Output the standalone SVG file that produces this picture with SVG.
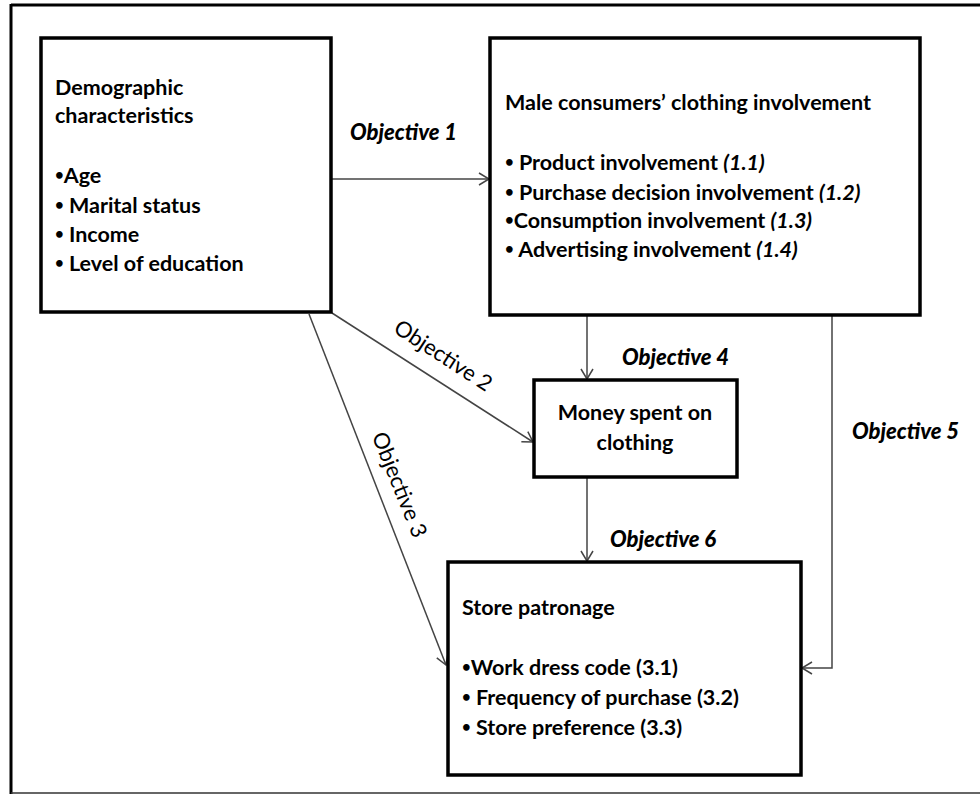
<svg xmlns="http://www.w3.org/2000/svg" width="980" height="796" viewBox="0 0 980 796">
<defs>
<marker id="arr" markerUnits="userSpaceOnUse" markerWidth="14" markerHeight="14" refX="11" refY="7" orient="auto" viewBox="0 0 14 14">
<path d="M1,1 L11,7 L1,13" fill="none" stroke="#444" stroke-width="1.5"/>
</marker>
</defs>
<style>
.box{fill:#fff;stroke:#000;stroke-width:3.5}
.t{font-family:Lato,"Open Sans","Liberation Sans",sans-serif;font-weight:bold;font-size:21.5px;fill:#000}
.obj{font-family:Lato,"Open Sans","Liberation Sans",sans-serif;font-weight:900;font-style:italic;font-size:22px;fill:#000}
.objr{font-family:Lato,"Open Sans","Liberation Sans",sans-serif;font-size:22px;fill:#000}
.it{font-style:italic}
.b{font-size:15px;baseline-shift:3px}
.c{fill:none;stroke:#444;stroke-width:1.5}
</style>
<rect x="0" y="0" width="980" height="796" fill="#fff"/>
<g id="frame">
<line x1="11" y1="5" x2="980" y2="5" stroke="#000" stroke-width="3"/>
<line x1="11" y1="4" x2="11" y2="794" stroke="#000" stroke-width="3"/>
<line x1="11" y1="793" x2="980" y2="793" stroke="#333" stroke-width="1.5"/>
</g>
<g id="connectors">
<line class="c" x1="332" y1="179" x2="489" y2="179" marker-end="url(#arr)"/>
<line class="c" x1="332" y1="313" x2="533" y2="442" marker-end="url(#arr)"/>
<line class="c" x1="309" y1="314" x2="446" y2="665" marker-end="url(#arr)"/>
<line class="c" x1="587" y1="316" x2="587" y2="379" marker-end="url(#arr)"/>
<line class="c" x1="587" y1="478" x2="587" y2="561" marker-end="url(#arr)"/>
<polyline class="c" points="832,316 832,668 802,668" stroke="#777" stroke-width="2" marker-end="url(#arr)"/>
</g>
<g id="labels">
<text class="obj" x="350" y="140">Objective 1</text>
<text class="objr" transform="translate(443,356) rotate(33)" text-anchor="middle" y="7">Objective 2</text>
<text class="objr" transform="translate(399,485) rotate(68)" text-anchor="middle" y="7">Objective 3</text>
<text class="obj" x="622" y="365">Objective 4</text>
<text class="obj" x="852" y="439">Objective 5</text>
<text class="obj" x="610" y="547">Objective 6</text>
</g>
<g id="demographic">
<rect class="box" x="41" y="38" width="290" height="274"/>
<text class="t" x="55" y="95">Demographic</text>
<text class="t" x="55" y="123">characteristics</text>
<text class="t" x="55" y="183"><tspan class="b">•</tspan>Age</text>
<text class="t" x="55" y="213"><tspan class="b">•</tspan> Marital status</text>
<text class="t" x="55" y="242"><tspan class="b">•</tspan> Income</text>
<text class="t" x="55" y="271"><tspan class="b">•</tspan> Level of education</text>
</g>
<g id="involvement">
<rect class="box" x="490" y="38" width="430" height="277"/>
<text class="t" x="505" y="110">Male consumers’ clothing involvement</text>
<text class="t" x="505" y="170"><tspan class="b">•</tspan> Product involvement <tspan class="it">(1.1)</tspan></text>
<text class="t" x="505" y="200"><tspan class="b">•</tspan> Purchase decision involvement <tspan class="it">(1.2)</tspan></text>
<text class="t" x="505" y="228"><tspan class="b">•</tspan>Consumption involvement <tspan class="it">(1.3)</tspan></text>
<text class="t" x="505" y="257"><tspan class="b">•</tspan> Advertising involvement <tspan class="it">(1.4)</tspan></text>
</g>
<g id="money">
<rect class="box" x="534" y="380" width="203" height="97"/>
<text class="t" x="635" y="420" text-anchor="middle">Money spent on</text>
<text class="t" x="635" y="450" text-anchor="middle">clothing</text>
</g>
<g id="store">
<rect class="box" x="448" y="562" width="353" height="213"/>
<text class="t" x="462" y="615">Store patronage</text>
<text class="t" x="462" y="675"><tspan class="b">•</tspan>Work dress code (3.1)</text>
<text class="t" x="462" y="705"><tspan class="b">•</tspan> Frequency of purchase (3.2)</text>
<text class="t" x="462" y="735"><tspan class="b">•</tspan> Store preference (3.3)</text>
</g>
</svg>
